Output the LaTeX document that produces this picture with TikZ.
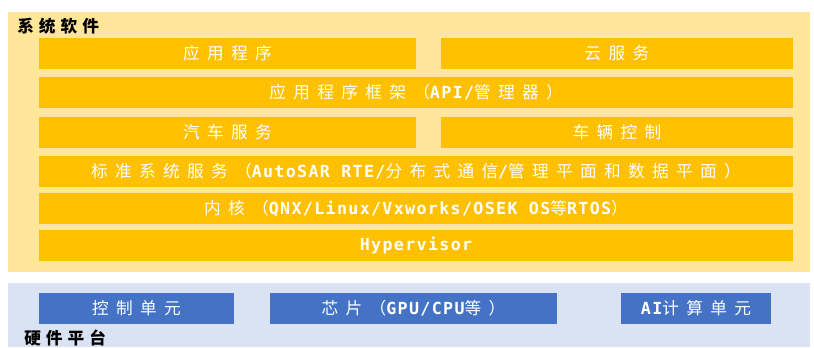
\documentclass[tikz,border=0pt]{standalone}
\usepackage{fontspec}
\usetikzlibrary{positioning}
\newfontfamily\hzfont[LetterSpace=44]{Noto Sans CJK SC}
\newfontfamily\titlefont[LetterSpace=30]{Noto Sans CJK SC}
\newfontfamily\enfont[LetterSpace=8]{DejaVu Sans Mono}
\newcommand{\entxt}[1]{{\enfont\bfseries #1}}
\definecolor{swpanel}{HTML}{FFE699}
\definecolor{hwpanel}{HTML}{DAE3F3}
\definecolor{swbar}{HTML}{FFC000}
\definecolor{hwbar}{HTML}{4472C4}

\begin{document}
\begin{tikzpicture}[x=0.75pt, y=-0.75pt,
    every node/.style={inner sep=0pt, font=\hzfont\fontsize{12.5}{14}\selectfont},
    swbox/.style={fill=swbar, text=white, minimum height=23.25pt},
    hwbox/.style={fill=hwbar, text=white, minimum height=23.25pt},
    half/.style={minimum width=282.75pt},
    halfr/.style={minimum width=264pt},
    full/.style={minimum width=565.5pt},
    layername/.style={anchor=west, text=black, font=\titlefont\bfseries\fontsize{12.5}{14}\selectfont}]
  \useasboundingbox (0,0) rectangle (814,347);
  \fill[white] (0,0) rectangle (814,347);
  % panels
  \fill[swpanel] (8,12) rectangle (810,272);
  \fill[hwpanel] (8,283) rectangle (810,347);
  % software layers
  \node[layername] (swtitle) at (17,26) {系统软件};
  \node[swbox, half] (app) at (227.5,53.5) {应用程序};
  \node[swbox, halfr] (cloud) at (617,53.5) {云服务};
  \node[swbox, full] (frame) at (416,92) {应用程序框架（\entxt{API/}管理器）};
  \node[swbox, half] (carsrv) at (227.5,132.5) {汽车服务};
  \node[swbox, halfr] (carctrl) at (617,132.5) {车辆控制};
  \node[swbox, full] (stdsrv) at (416,171) {标准系统服务（\entxt{AutoSAR RTE/}分布式通信\entxt{/}管理平面和数据平面）};
  \node[swbox, full] (kernel) at (416,208.5) {内核（\entxt{QNX/Linux/Vxworks/OSEK OS}等\entxt{RTOS}）};
  \node[swbox, full] (hyper) at (416,245) {\entxt{Hypervisor}};
  % hardware
  \node[hwbox, minimum width=146.25pt] (ecu) at (136.5,308.5) {控制单元};
  \node[hwbox, minimum width=215.25pt] (chip) at (413.5,308.5) {芯片（\entxt{GPU/CPU}等）};
  \node[hwbox, minimum width=112.5pt] (aiunit) at (696,308.5) {\entxt{AI}计算单元};
  \node[layername] (hwtitle) at (24,338) {硬件平台};
\end{tikzpicture}
\end{document}
